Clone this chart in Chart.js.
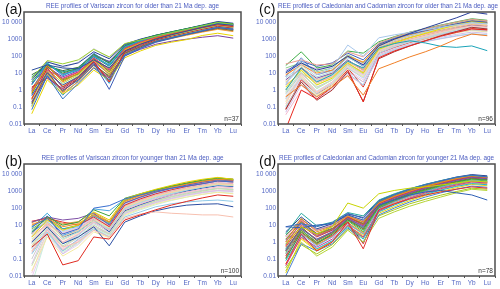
<!DOCTYPE html>
<html>
<head>
<meta charset="utf-8">
<script src="https://cdn.jsdelivr.net/npm/chart.js@4.4.1/dist/chart.umd.min.js"></script>
<style>
body{margin:0;width:500px;height:289px;overflow:hidden;background:#fff;position:relative;font-family:"Liberation Sans",Arial,sans-serif}
.panel{position:absolute;width:250px;height:137px}
.panel canvas{position:absolute;left:0;top:0}
.letter{position:absolute;left:5px;top:1.5px;font-size:14px;line-height:1;color:#111}
.title{position:absolute;left:24px;width:217px;top:3px;text-align:center;font-size:6.4px;line-height:1;color:#4b5cc0;white-space:nowrap}
.title.tight{letter-spacing:-0.06px}
.n{position:absolute;right:11px;top:116px;font-size:6.5px;line-height:1;color:#333}
</style>
</head>
<body>
<div class="panel" style="left:0;top:0"><canvas id="ca" width="250" height="137"></canvas><div class="letter">(a)</div><div class="title">REE profiles of Variscan zircon for older than 21 Ma dep. age</div><div class="n">n=37</div></div>
<div class="panel" style="left:254px;top:0"><canvas id="cc" width="250" height="137"></canvas><div class="letter">(c)</div><div class="title tight">REE profiles of Caledonian and Cadomian zircon for older than 21 Ma dep. age</div><div class="n">n=96</div></div>
<div class="panel" style="left:0;top:152px"><canvas id="cb" width="250" height="137"></canvas><div class="letter">(b)</div><div class="title">REE profiles of Variscan zircon for younger than 21 Ma dep. age</div><div class="n">n=100</div></div>
<div class="panel" style="left:254px;top:152px"><canvas id="cd" width="250" height="137"></canvas><div class="letter">(d)</div><div class="title tight">REE profiles of Caledonian and Cadomian zircon for younger 21 Ma dep. age</div><div class="n">n=78</div></div>
<script>
// chondrite-normalised REE, one row per zircon
const elements = ['La', 'Ce', 'Pr', 'Nd', 'Sm', 'Eu', 'Gd', 'Tb', 'Dy', 'Ho', 'Er', 'Tm', 'Yb', 'Lu'];
const yTicks = [0.01, 0.1, 1, 10, 100, 1000, 10000];

const seriesA = [
  [15, 30, 20, 18, 60, 20, 200, 500, 1000, 1800, 3000, 5000, 8000, 6500],
  [5, 55, 35, 60, 250, 90, 550, 900, 1500, 2400, 3800, 6000, 9500, 7500],
  [0.07, 7, 0.3, 2.5, 20, 4, 120, 300, 700, 1200, 2000, 3200, 5000, 3800],
  [0.5, 10, 2, 6, 40, 1.1, 100, 280, 650, 1100, 1900, 3000, 4800, 3800],
  [0.04, 4, 0.6, 2, 15, 4, 80, 200, 430, 660, 950, 1650, 2250, 1600],
  [0.3, 20, 1.5, 6, 50, 3, 200, 500, 1100, 1900, 3000, 4800, 7000, 5500],
  [0.8, 30, 3, 10, 60, 8, 250, 600, 1200, 2000, 3200, 5000, 7500, 6000],
  [0.2, 6, 1, 4, 30, 5, 110, 250, 500, 750, 1000, 1300, 1600, 1150],
  [2, 40, 8, 15, 100, 30, 350, 800, 1500, 2400, 3800, 6000, 9000, 7000],
  [1, 15, 5, 12, 80, 15, 300, 700, 1300, 2100, 3300, 5200, 8000, 6000],
  [3, 35, 10, 20, 120, 40, 400, 900, 1700, 2700, 4200, 6500, 10000, 8000],
  [0.15, 12, 0.8, 5, 35, 6, 150, 350, 750, 1200, 1900, 2900, 4300, 3300],
  [4, 45, 25, 40, 180, 70, 500, 1000, 1700, 2700, 4200, 6800, 11000, 8700],
  [0.6, 25, 4, 9, 70, 12, 280, 650, 1300, 2000, 3200, 5000, 7500, 5800],
  [0.25, 18, 2.5, 8, 55, 20, 220, 550, 1100, 1700, 2700, 4300, 6500, 5000],
  [1.5, 5, 1.2, 5, 45, 3, 180, 420, 900, 1500, 2400, 3800, 5800, 4500],
  [6, 28, 12, 18, 90, 25, 330, 750, 1400, 2300, 3600, 5600, 8500, 6800],
  [0.35, 9, 0.7, 3, 22, 5, 130, 320, 700, 1100, 1700, 2600, 3800, 2800],
  [2.5, 22, 6, 14, 100, 50, 380, 850, 1600, 2500, 4000, 6200, 9500, 7600],
  [0.1, 14, 1.8, 7, 60, 10, 240, 520, 1000, 1500, 2200, 3300, 4800, 3600],
  [0.9, 38, 7, 20, 150, 35, 450, 950, 1700, 2600, 4000, 6300, 9800, 7800],
  [3, 50, 20, 45, 280, 80, 520, 950, 1600, 2500, 3900, 6100, 9500, 7400],
  [0.45, 16, 1.4, 6, 45, 9, 200, 480, 1000, 1600, 2600, 4100, 6200, 4800],
  [1.2, 28, 4.5, 11, 75, 18, 300, 700, 1350, 2150, 3400, 5400, 8200, 6400],
  [0.18, 10, 0.9, 4, 28, 7, 140, 340, 720, 1150, 1800, 2800, 4100, 3100],
  [2.2, 32, 9, 16, 110, 28, 360, 820, 1550, 2450, 3900, 6100, 9200, 7300],
  [0.12, 8, 0.5, 3.5, 32, 2.5, 160, 380, 800, 1300, 2100, 3300, 5000, 3900],
  [0.7, 24, 3.5, 9, 65, 14, 260, 600, 1200, 1900, 3000, 4700, 7200, 5600],
  [8, 26, 14, 22, 130, 45, 420, 900, 1650, 2600, 4100, 6400, 9700, 7700],
  [0.28, 13, 1.6, 6, 48, 11, 210, 500, 1050, 1650, 2600, 4000, 6000, 4600]
];

const seriesB = [
  [8, 25, 3, 6, 100, 140, 350, 600, 1000, 1500, 2000, 2700, 4000, 3500],
  [0.5, 3, 0.045, 0.08, 2, 1.5, 20, 40, 80, 150, 250, 400, 600, 500],
  [0.3, 5, 0.5, 1, 5, 2, 25, 45, 60, 50, 45, 40, 40, 30],
  [1, 8, 0.8, 2, 8, 0.6, 15, 35, 70, 110, 150, 170, 180, 120],
  [0.2, 4, 0.3, 1.5, 6, 2, 30, 60, 120, 180, 230, 270, 300, 250],
  [2, 20, 5, 10, 60, 20, 350, 700, 1300, 2200, 3500, 5000, 6500, 5000],
  [4, 30, 10, 15, 80, 35, 380, 700, 1200, 2000, 3000, 4500, 6000, 5000],
  [10, 25, 8, 12, 40, 15, 250, 550, 1000, 1700, 2600, 3800, 5000, 4500],
  [15, 30, 20, 25, 50, 10, 200, 450, 900, 1500, 2300, 3400, 4800, 4200],
  [17, 25, 15, 10, 30, 8, 150, 350, 700, 1200, 1900, 2800, 4000, 3500],
  [1, 10, 1, 3, 15, 5, 80, 180, 350, 600, 900, 1300, 1800, 1600],
  [0.5, 8, 0.6, 2, 10, 3, 60, 130, 260, 450, 700, 1000, 1400, 1200],
  [3, 15, 2, 5, 20, 8, 120, 250, 500, 850, 1300, 1900, 2600, 2200],
  [0.05, 6, 0.2, 1, 8, 3, 50, 110, 220, 380, 600, 850, 1100, 1000],
  [5, 20, 4, 8, 30, 10, 180, 380, 750, 1300, 2000, 2900, 4000, 3500],
  [0.02, 2, 0.15, 0.5, 4, 1.8, 40, 90, 180, 300, 450, 650, 850, 700],
  [7, 50, 6, 8, 35, 12, 200, 420, 850, 1400, 2200, 3200, 4500, 4000],
  [0.003, 3, 0.25, 0.8, 6, 2.5, 35, 80, 160, 280, 450, 650, 900, 750],
  [2, 12, 3, 6, 25, 9, 140, 300, 600, 1000, 1600, 2300, 3200, 2800],
  [0.8, 9, 1.5, 4, 18, 6, 100, 220, 450, 750, 1200, 1700, 2400, 2100],
  [3, 35, 2, 4, 20, 4, 70, 160, 330, 600, 1000, 1500, 2100, 1900],
  [0.1, 7, 0.5, 1.8, 12, 4, 70, 150, 300, 500, 780, 1100, 1500, 1300],
  [0.015, 4, 0.4, 1.2, 9, 3.5, 55, 120, 240, 400, 650, 900, 1200, 1050],
  [6, 22, 6, 10, 45, 14, 280, 600, 1100, 1800, 2800, 4000, 5500, 4800],
  [12, 18, 10, 14, 35, 11, 220, 480, 950, 1600, 2500, 3600, 5000, 4400],
  [4, 15, 2.5, 5, 90, 70, 330, 650, 1100, 1800, 2700, 3800, 5200, 4500],
  [0.4, 6, 0.8, 2.5, 14, 5, 90, 200, 400, 700, 1100, 1600, 2200, 1900],
  [1.5, 14, 1.8, 4.5, 22, 7, 130, 280, 550, 950, 1500, 2100, 2900, 2500],
  [0.6, 11, 0.9, 2.8, 16, 5.5, 110, 240, 480, 820, 1300, 1900, 2700, 2400],
  [2.5, 18, 2.2, 5, 24, 9, 160, 340, 680, 1150, 1800, 2600, 3600, 3200],
  [0.008, 2.5, 0.2, 0.7, 5, 2.2, 45, 100, 200, 340, 540, 780, 1050, 900],
  [9, 28, 6, 9, 38, 13, 240, 520, 1000, 1700, 2700, 3900, 5400, 4700],
  [1.2, 13, 1.3, 3.5, 19, 6.5, 120, 260, 520, 880, 1400, 2000, 2800, 2500],
  [0.25, 5, 0.35, 1.3, 9, 3, 65, 140, 280, 480, 760, 1100, 1500, 1300],
  [5, 24, 4.5, 8, 33, 10, 200, 430, 850, 1450, 2300, 3300, 4600, 4100],
  [0.04, 3.5, 0.3, 1, 7, 2.8, 48, 105, 210, 360, 570, 820, 1100, 950],
  [3.5, 20, 3.5, 7, 28, 10, 170, 370, 740, 1250, 1950, 2800, 3900, 3400],
  [14, 30, 12, 16, 55, 16, 300, 650, 1200, 2000, 3100, 4500, 6000, 5200]
];

const seriesC = [
  [10, 40, 15, 25, 100, 30, 400, 1000, 2200, 4500, 9000, 18000, 40000, 30000],
  [2, 60, 8, 20, 450, 100, 1200, 1800, 2500, 3500, 5000, 7000, 9000, 8000],
  [0.4, 2, 0.4, 1.5, 7, 0.5, 18, 40, 90, 180, 400, 1000, 2000, 1600],
  [1, 20, 3, 8, 50, 20, 300, 550, 800, 600, 380, 330, 400, 210],
  [0.005, 1, 0.3, 1.5, 15, 0.2, 80, 200, 400, 800, 1500, 2500, 4000, 3500],
  [0.07, 3, 0.25, 1, 12, 0.21, 70, 180, 400, 800, 1600, 2800, 5000, 4000],
  [35, 60, 30, 35, 180, 90, 600, 1300, 2500, 4000, 6500, 10000, 15000, 12000],
  [28, 180, 20, 30, 200, 150, 700, 1400, 2600, 4200, 6800, 10500, 16000, 13000],
  [12, 50, 25, 40, 150, 60, 500, 1100, 2000, 3200, 5200, 8000, 12000, 10000],
  [1.5, 15, 2, 5, 40, 10, 250, 600, 1200, 2200, 4000, 7000, 11000, 9000],
  [0.3, 5, 0.6, 2.5, 20, 5, 150, 350, 700, 1200, 2000, 3200, 5000, 4200],
  [0.15, 8, 0.8, 3, 25, 8, 200, 450, 900, 1500, 2500, 4000, 6000, 5000],
  [0.8, 12, 1.2, 4, 30, 10, 220, 480, 900, 1500, 2300, 3500, 5000, 4300],
  [3, 25, 4, 8, 50, 20, 350, 750, 1400, 2300, 3700, 5800, 8500, 7000],
  [0.05, 2, 0.3, 1.2, 12, 3, 120, 260, 500, 850, 1300, 1900, 2600, 2200],
  [0.6, 9, 1.5, 4, 30, 9, 200, 400, 750, 1200, 1800, 2600, 3500, 3000],
  [5, 30, 6, 12, 80, 30, 400, 850, 1600, 2600, 4200, 6500, 9500, 8000],
  [0.2, 6, 0.5, 2, 18, 6, 180, 380, 700, 1100, 1700, 2400, 3200, 2700],
  [1, 18, 2.5, 6, 45, 15, 300, 650, 1200, 2000, 3200, 5000, 7500, 6200],
  [8, 30, 10, 15, 100, 45, 450, 950, 1800, 3000, 5000, 8000, 12000, 10000],
  [4, 20, 5, 10, 60, 15, 300, 700, 1300, 2100, 3300, 5000, 7000, 6000],
  [0.1, 3, 0.4, 1.5, 10, 2, 100, 230, 450, 750, 1100, 1600, 2100, 1800],
  [20, 40, 12, 20, 120, 40, 550, 1200, 2300, 3800, 6000, 9500, 14000, 11500],
  [0.035, 1, 0.4, 1.5, 8, 2, 90, 210, 420, 700, 1050, 1500, 2000, 1700],
  [2, 10, 3, 6, 35, 12, 260, 550, 1000, 1700, 2700, 4200, 6200, 5200],
  [0.08, 4, 0.6, 2, 20, 1.5, 150, 330, 650, 1100, 1800, 2800, 4200, 3600],
  [0.5, 7, 0.9, 3, 22, 7, 170, 360, 680, 1100, 1700, 2500, 3500, 3000],
  [6, 80, 8, 15, 90, 25, 380, 800, 1500, 2500, 4000, 6500, 10000, 8500],
  [0.25, 4, 0.5, 2, 15, 4, 140, 300, 600, 1000, 1600, 2500, 3800, 3200],
  [1.2, 14, 2, 5, 35, 11, 240, 520, 1000, 1700, 2700, 4300, 6500, 5400],
  [0.4, 6, 0.7, 2.5, 20, 6, 170, 380, 750, 1300, 2100, 3300, 5000, 4200],
  [2.5, 20, 3.5, 7, 45, 15, 320, 700, 1300, 2200, 3500, 5500, 8000, 6700],
  [0.12, 3, 0.45, 1.8, 14, 3, 120, 270, 550, 950, 1500, 2400, 3600, 3000],
  [7, 35, 8, 14, 85, 35, 420, 900, 1700, 2800, 4500, 7000, 10500, 8800],
  [0.7, 10, 1.3, 4, 28, 9, 210, 450, 850, 1400, 2200, 3400, 5000, 4200],
  [15, 35, 18, 25, 110, 40, 480, 1000, 1900, 3100, 5000, 7800, 11500, 9500],
  [0.3, 7, 0.8, 3, 22, 7, 190, 400, 780, 1300, 2000, 3100, 4600, 3900],
  [3, 22, 4, 9, 55, 18, 340, 720, 1350, 2200, 3500, 5400, 8000, 6600]
];

const seriesD = [
  [0.8, 8, 3, 8, 200, 100, 700, 1100, 1500, 1800, 2300, 3000, 4000, 3500],
  [8, 7, 10, 12, 40, 20, 150, 300, 600, 900, 1100, 800, 600, 300],
  [0.05, 3, 0.3, 1, 15, 0.4, 80, 180, 350, 600, 900, 1300, 1800, 1500],
  [0.02, 1, 0.15, 0.5, 5, 1, 25, 60, 130, 250, 450, 800, 1300, 1100],
  [8, 12, 8, 14, 50, 25, 250, 600, 1300, 2400, 4000, 6500, 9000, 7000],
  [3, 50, 9, 15, 55, 35, 300, 700, 1400, 2500, 4200, 6500, 8500, 7000],
  [1, 25, 4, 8, 35, 15, 200, 500, 1000, 1900, 3300, 5500, 8000, 6500],
  [0.3, 6, 1.5, 4, 25, 8, 150, 380, 800, 1500, 2600, 4300, 6500, 5500],
  [0.1, 4, 0.8, 3, 20, 5, 120, 300, 650, 1200, 2100, 3500, 5200, 4500],
  [0.5, 10, 2, 5, 30, 10, 180, 420, 900, 1700, 2900, 4700, 7000, 6000],
  [0.2, 3, 0.6, 2, 12, 3, 90, 230, 500, 950, 1700, 2800, 4200, 3600],
  [0.04, 2, 0.5, 1.5, 10, 2, 70, 180, 400, 800, 1400, 2300, 3500, 3000],
  [1.5, 15, 3, 6, 28, 12, 220, 520, 1100, 2000, 3400, 5500, 7800, 6500],
  [0.08, 2.5, 0.4, 1.2, 8, 1.5, 60, 150, 340, 650, 1150, 1900, 2800, 2400],
  [0.3, 8, 1.2, 3.5, 22, 6, 140, 340, 720, 1350, 2300, 3800, 5800, 5000],
  [0.015, 1.5, 0.3, 1, 9, 2.5, 50, 120, 280, 550, 950, 1600, 2500, 2100],
  [4, 30, 6, 12, 45, 28, 280, 650, 1350, 2500, 4100, 6800, 9500, 8000],
  [0.6, 18, 2.5, 6, 32, 12, 190, 460, 950, 1800, 3000, 5000, 7400, 6200],
  [0.25, 5, 1, 3, 18, 4, 110, 270, 580, 1100, 1900, 3100, 4700, 4000],
  [2, 20, 5, 10, 40, 18, 260, 600, 1250, 2300, 3800, 6200, 8800, 7400],
  [0.01, 0.8, 0.3, 0.8, 7, 1, 40, 100, 230, 450, 800, 1300, 2000, 1700],
  [0.15, 5, 0.9, 2.5, 16, 0.8, 100, 250, 540, 1000, 1700, 2800, 4200, 3600],
  [1, 12, 2.5, 5, 26, 9, 170, 400, 850, 1600, 2700, 4400, 6600, 5600],
  [0.4, 7, 1.4, 4, 24, 7, 130, 320, 700, 1300, 2200, 3600, 5500, 4700],
  [0.03, 0.7, 0.2, 0.7, 6, 2, 35, 80, 180, 330, 580, 950, 1500, 1300],
  [0.2, 4, 0.7, 2.2, 14, 3.5, 85, 210, 470, 880, 1500, 2500, 3800, 3200],
  [0.7, 14, 2.2, 5.5, 30, 11, 190, 450, 930, 1750, 2950, 4850, 7200, 6100],
  [0.12, 3.5, 0.7, 2, 13, 3, 95, 240, 520, 980, 1650, 2700, 4000, 3400],
  [2.5, 22, 5, 9, 38, 16, 240, 560, 1150, 2150, 3600, 5900, 8400, 7100],
  [0.05, 1.8, 0.35, 1.1, 9, 1.8, 65, 165, 370, 720, 1250, 2050, 3100, 2700],
  [1.3, 17, 3.2, 6.5, 30, 13, 210, 490, 1020, 1900, 3200, 5200, 7600, 6400],
  [0.35, 6, 1.3, 3.8, 21, 6.5, 135, 330, 710, 1330, 2250, 3700, 5600, 4800]
];

const colorsA = ['#2c4f9e', '#9acd32', '#2f6fc0', '#3b5cb8', '#e8d400', '#e0302a', '#f28a1e', '#7a3fa0',
  '#19b2c8', '#d2358f', '#2e9e3a', '#8c5a3a', '#26409a', '#7d8f22', '#a6d65a', '#c8282a',
  '#1d8f8f', '#f59a3a', '#6a4cb0', '#f0e040', '#3a80d0', '#d8d8d8', '#4c9ad8', '#e45a2a',
  '#5bb84a', '#9b3fb8', '#2f9ed0', '#c8b400', '#356c3a', '#e87aa0'];
const colorsB = ['#3a6fd0', '#e02a20', '#f7c0b0', '#2b4ea2', '#8fc9e8', '#e6d200', '#3aa23a', '#f08a24',
  '#7e4fa6', '#e3302f', '#f4b8c8', '#bfe3b0', '#f8d3a6', '#d7c2e8', '#b8d8f2', '#f3eaa0',
  '#2aa0d8', '#c8eedd', '#f2a8b8', '#a8dcd8', '#2e5fb5', '#cfcfcf', '#f6cfe0', '#8fb83a',
  '#f9c08a', '#4aa8e0', '#a9d2f0', '#d2eab0', '#f5c5a0', '#c5e0f5', '#e8d0f0', '#b0e0c0',
  '#f8e0b8', '#f0b0b8', '#d0d0f0', '#c8e8a8', '#f4c0d8', '#e0a040'];
const colorsC = ['#2a3f9a', '#a9c8ec', '#f07f26', '#1aa3b8', '#e8281e', '#a83232', '#e8998d', '#3fae49',
  '#3b5fc0', '#e8e000', '#b7d4f0', '#f6c6c6', '#c3e6b4', '#f8d3a6', '#d4c0e6', '#c8c8c8',
  '#a8e0dc', '#f3eaa0', '#f9c08a', '#ff8c1a', '#7b4aa8', '#9fd0f0', '#8fd18b', '#f2b8d0',
  '#f4a49a', '#d9372b', '#cfe9f5', '#6a8fd6', '#e6d0f2', '#bfe4c8', '#f8c8b0', '#b0cff0',
  '#f0e0b0', '#f7b0c0', '#c0e8e8', '#d0b0e0', '#f2d8c0', '#a8c8a0'];
const colorsD = ['#c8d400', '#2e5fb5', '#e3302f', '#b5d334', '#3d6cc0', '#2aa8a0', '#f08a24', '#7e4fa6',
  '#3aa23a', '#d43d3d', '#6fb6e6', '#c63c9b', '#7a8f2a', '#1fb5d0', '#9b5a2e', '#e8d20c',
  '#24428f', '#f26b3a', '#58b847', '#ef7fa8', '#4a7fd1', '#c0282a', '#8b62c0', '#3ab0a0',
  '#a6c81c', '#f4a12c', '#5a90d8', '#e05050', '#50a050', '#f0b030', '#8050b0', '#30b0c0'];

const tickBlue = '#5266c4';
Chart.defaults.font.family = '"Liberation Sans", Arial, sans-serif';

// frame around the plot area (top and right sides too)
const framePlugin = {
  id: 'frame',
  afterDraw(chart) {
    const a = chart.chartArea;
    const ctx = chart.ctx;
    ctx.save();
    ctx.strokeStyle = '#4d4d4d';
    ctx.lineWidth = 1.5;
    ctx.strokeRect(a.left, a.top, a.right - a.left, a.bottom - a.top);
    ctx.restore();
  }
};

function makeChart(id, series, colors) {
  return new Chart(document.getElementById(id), {
    type: 'line',
    data: {
      labels: elements,
      datasets: series.map((d, i) => ({
        data: d,
        borderColor: colors[i % colors.length],
        borderWidth: 1,
        pointRadius: 0,
        fill: false,
        tension: 0
      }))
    },
    options: {
      responsive: false,
      animation: false,
      layout: { padding: { left: 0, right: 9, top: 12, bottom: 0 } },
      plugins: { legend: { display: false }, tooltip: { enabled: false } },
      scales: {
        x: {
          offset: true,
          grid: { offset: true, drawOnChartArea: false, tickLength: 2, color: '#555' },
          border: { display: false },
          ticks: { color: tickBlue, font: { size: 6.5 }, padding: 1, autoSkip: false, maxRotation: 0 },
          afterFit: s => { s.height = 13; }
        },
        y: {
          type: 'logarithmic',
          min: 0.01,
          max: 40000,
          afterBuildTicks: s => { s.ticks = yTicks.map(v => ({ value: v })); },
          grid: { drawOnChartArea: false, drawTicks: false },
          border: { display: false },
          ticks: {
            color: tickBlue,
            font: { size: 6.5 },
            padding: 2,
            autoSkip: false,
            callback: v => v === 10000 ? '10 000' : String(v)
          },
          afterFit: s => { s.width = 24; }
        }
      }
    },
    plugins: [framePlugin]
  });
}

makeChart('ca', seriesA, colorsA);
makeChart('cb', seriesB, colorsB);
makeChart('cc', seriesC, colorsC);
makeChart('cd', seriesD, colorsD);
</script>
</body>
</html>
